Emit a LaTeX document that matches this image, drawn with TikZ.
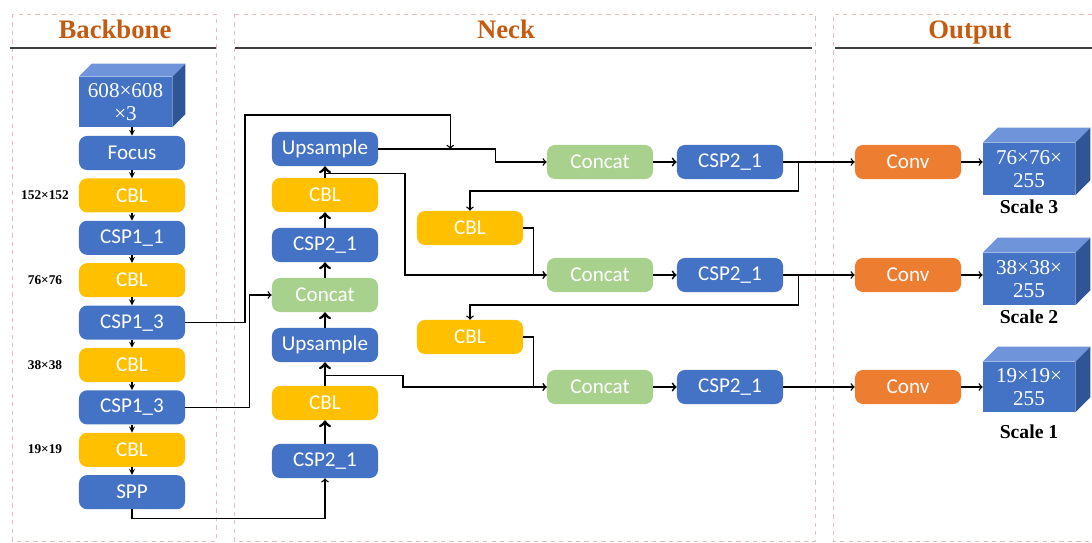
\documentclass[tikz,border=0pt]{standalone}
\usepackage{fontspec}
\setmainfont{Liberation Serif}
\newfontfamily\boxfont{Carlito}
\usepackage{xcolor}
\usetikzlibrary{arrows,positioning}

\definecolor{boxblue}{HTML}{4472C4}
\definecolor{boxyellow}{HTML}{FFC000}
\definecolor{boxgreen}{HTML}{A9D18E}
\definecolor{boxorange}{HTML}{ED7D31}
\definecolor{cubetopc}{HTML}{7094DA}
\definecolor{cubesidec}{HTML}{2F5597}
\definecolor{titlec}{HTML}{C55A11}
\definecolor{panelc}{HTML}{E8BCBC}

\tikzset{
  box/.style={rounded corners=0.2cm, minimum width=2.65cm, minimum height=0.85cm,
    inner sep=0pt, text=white, font=\boxfont\fontsize{15}{17}\selectfont},
  bluebox/.style={box, fill=boxblue},
  yellowbox/.style={box, fill=boxyellow},
  greenbox/.style={box, fill=boxgreen},
  orangebox/.style={box, fill=boxorange},
  cubefront/.style={fill=boxblue, inner sep=0pt, text=white, align=center,
    font=\fontsize{15}{16}\selectfont},
  panel/.style={dashed, color=panelc, line width=0.5pt},
  title/.style={anchor=base, font=\bfseries\fontsize{19}{21}\selectfont, text=titlec},
  titlerule/.style={line width=1.4pt, color=black!75},
  dimlabel/.style={font=\bfseries\fontsize{9.5}{11}\selectfont},
  scalelabel/.style={font=\bfseries\fontsize{14}{16}\selectfont},
  link/.style={line width=1pt, >=to},
  smallarrow/.style={line width=0.9pt, ->, >=stealth},
  bigarrow/.style={line width=2pt, ->, >=to},
}

\begin{document}
\begin{tikzpicture}[x=0.025cm, y=-0.025cm]
  \useasboundingbox (0,0) rectangle (1092,543);

  % panels
  \draw[panel] (12,14) rectangle (216,541);
  \draw[panel] (234,14) rectangle (815,541);
  \draw[panel] (1092,14) -- (833,14) -- (833,541) -- (1092,541);
  \draw[titlerule] (10,48) -- (216,48);
  \draw[titlerule] (235,48) -- (812,48);
  \draw[titlerule] (835,48) -- (1092,48);
  \node[title] (tback) at (115,39) {Backbone};
  \node[title] (tneck) at (506,39) {Neck};
  \node[title] (tout) at (970,39) {Output};

  % backbone
  \node[cubefront, minimum width=2.325cm, minimum height=1.25cm] (in) at (125.5,102) {608×608\\×3};
  \foreach \lbl/\sty [count=\i from 1] in {Focus/bluebox, CBL/yellowbox, CSP1\_1/bluebox,
      CBL/yellowbox, CSP1\_3/bluebox, CBL/yellowbox, CSP1\_3/bluebox, CBL/yellowbox, SPP/bluebox}{%
    \node[\sty] (bb\i) at (132, 153+42.4*\i-42.4) {\lbl};
  }
  \draw[smallarrow] (in.south -| bb1.north) -- (bb1.north);
  \foreach \i [evaluate=\i as \j using int(\i+1)] in {1,...,8}{%
    \draw[smallarrow] (bb\i.south) -- (bb\j.north);
  }
  \node[dimlabel] (d1) at (45,195) {152×152};
  \node[dimlabel] (d2) at (45,280) {76×76};
  \node[dimlabel] (d3) at (45,365) {38×38};
  \node[dimlabel] (d4) at (45,449) {19×19};

  % neck
  \node[bluebox] (n1) at (325,149) {Upsample};
  \node[yellowbox] (n2) at (325,195) {CBL};
  \node[bluebox] (n3) at (325,245) {CSP2\_1};
  \node[greenbox] (n4) at (325,295) {Concat};
  \node[bluebox] (n5) at (325,345) {Upsample};
  \node[yellowbox] (n6) at (325,403) {CBL};
  \node[bluebox] (n7) at (325,461) {CSP2\_1};
  \node[yellowbox] (c1) at (470,228) {CBL};
  \node[yellowbox] (c2) at (470,337) {CBL};
  \foreach \y [count=\i] in {162,275,387}{%
    \node[greenbox] (cc\i) at (600,\y) {Concat};
    \node[bluebox] (cs\i) at (730,\y) {CSP2\_1};
    \node[orangebox] (cv\i) at (908,\y) {Conv};
    \draw[link, ->, line width=1.3pt] (cc\i.east) -- (cs\i.east -| cs\i.west);
    \draw[link, ->] (cs\i.east) -- (cv\i.west);
  }
  \foreach \a/\b in {n7/n6, n6/n5, n5/n4, n4/n3, n3/n2, n2/n1}{%
    \draw[bigarrow] (\a.north) -- (\b.south);
  }

  % output cubes
  \node[cubefront, minimum width=2.3cm, minimum height=1.3cm] (out1) at (1029,169) {76×76×\\255};
  \node[cubefront, minimum width=2.3cm, minimum height=1.3cm] (out2) at (1029,279) {38×38×\\255};
  \node[cubefront, minimum width=2.3cm, minimum height=1.25cm] (out3) at (1029,387) {19×19×\\255};
  \foreach \c/\d in {in/13, out1/15, out2/15, out3/15}{%
    \fill[cubetopc] (\c.north west) -- ([shift={(\d,-\d)}]\c.north west)
      -- ([shift={(\d,-\d)}]\c.north east) -- (\c.north east) -- cycle;
    \fill[cubesidec] (\c.north east) -- ([shift={(\d,-\d)}]\c.north east)
      -- ([shift={(\d,-\d)}]\c.south east) -- (\c.south east) -- cycle;
  }
  \node[scalelabel, below=0cm of out1] (s3) {Scale 3};
  \node[scalelabel, below=0cm of out2] (s2) {Scale 2};
  \node[scalelabel, below=0.18cm of out3] (s1) {Scale 1};
  \foreach \i in {1,2,3}{%
    \draw[link, ->] (cv\i.east) -- (cv\i.east -| out\i.west);
  }

  % connections
  \path (n1.east) ++(72,0) coordinate (j1);
  \draw[link, ->] (n1.east) -- ++(117,0) |- (cc1.west);
  \draw[link, ->] (bb5.east) -| (245,115) -| (j1);
  \path (n4.west) ++(-22,0) coordinate (k2);
  \draw[link, ->] (bb7.east) -| (k2) -- (n4.west);
  \draw[link, ->] (bb9.south) -- ++(0,9) -| (n7.south);
  \path (n2.north) ++(0,-4) coordinate (p1);
  \draw[link, ->] (p1) -- ++(80,0) |- (cc2.west);
  \path (n6.north) ++(0,-10) coordinate (p2);
  \draw[link, ->] (p2) -- ++(78,0) |- (cc3.west);
  \path (cs1.east) ++(15,0) coordinate (q1);
  \draw[link, ->] (q1) -- ++(0,29) -| (c1.north);
  \path (cs2.east) ++(15,0) coordinate (q2);
  \draw[link, ->] (q2) -- ++(0,30) -| (c2.north);
  \draw[link, ->] (c1.east) -- ++(10,0) |- (cc2.west);
  \draw[link, ->] (c2.east) -- ++(10,0) |- (cc3.west);
\end{tikzpicture}
\end{document}
